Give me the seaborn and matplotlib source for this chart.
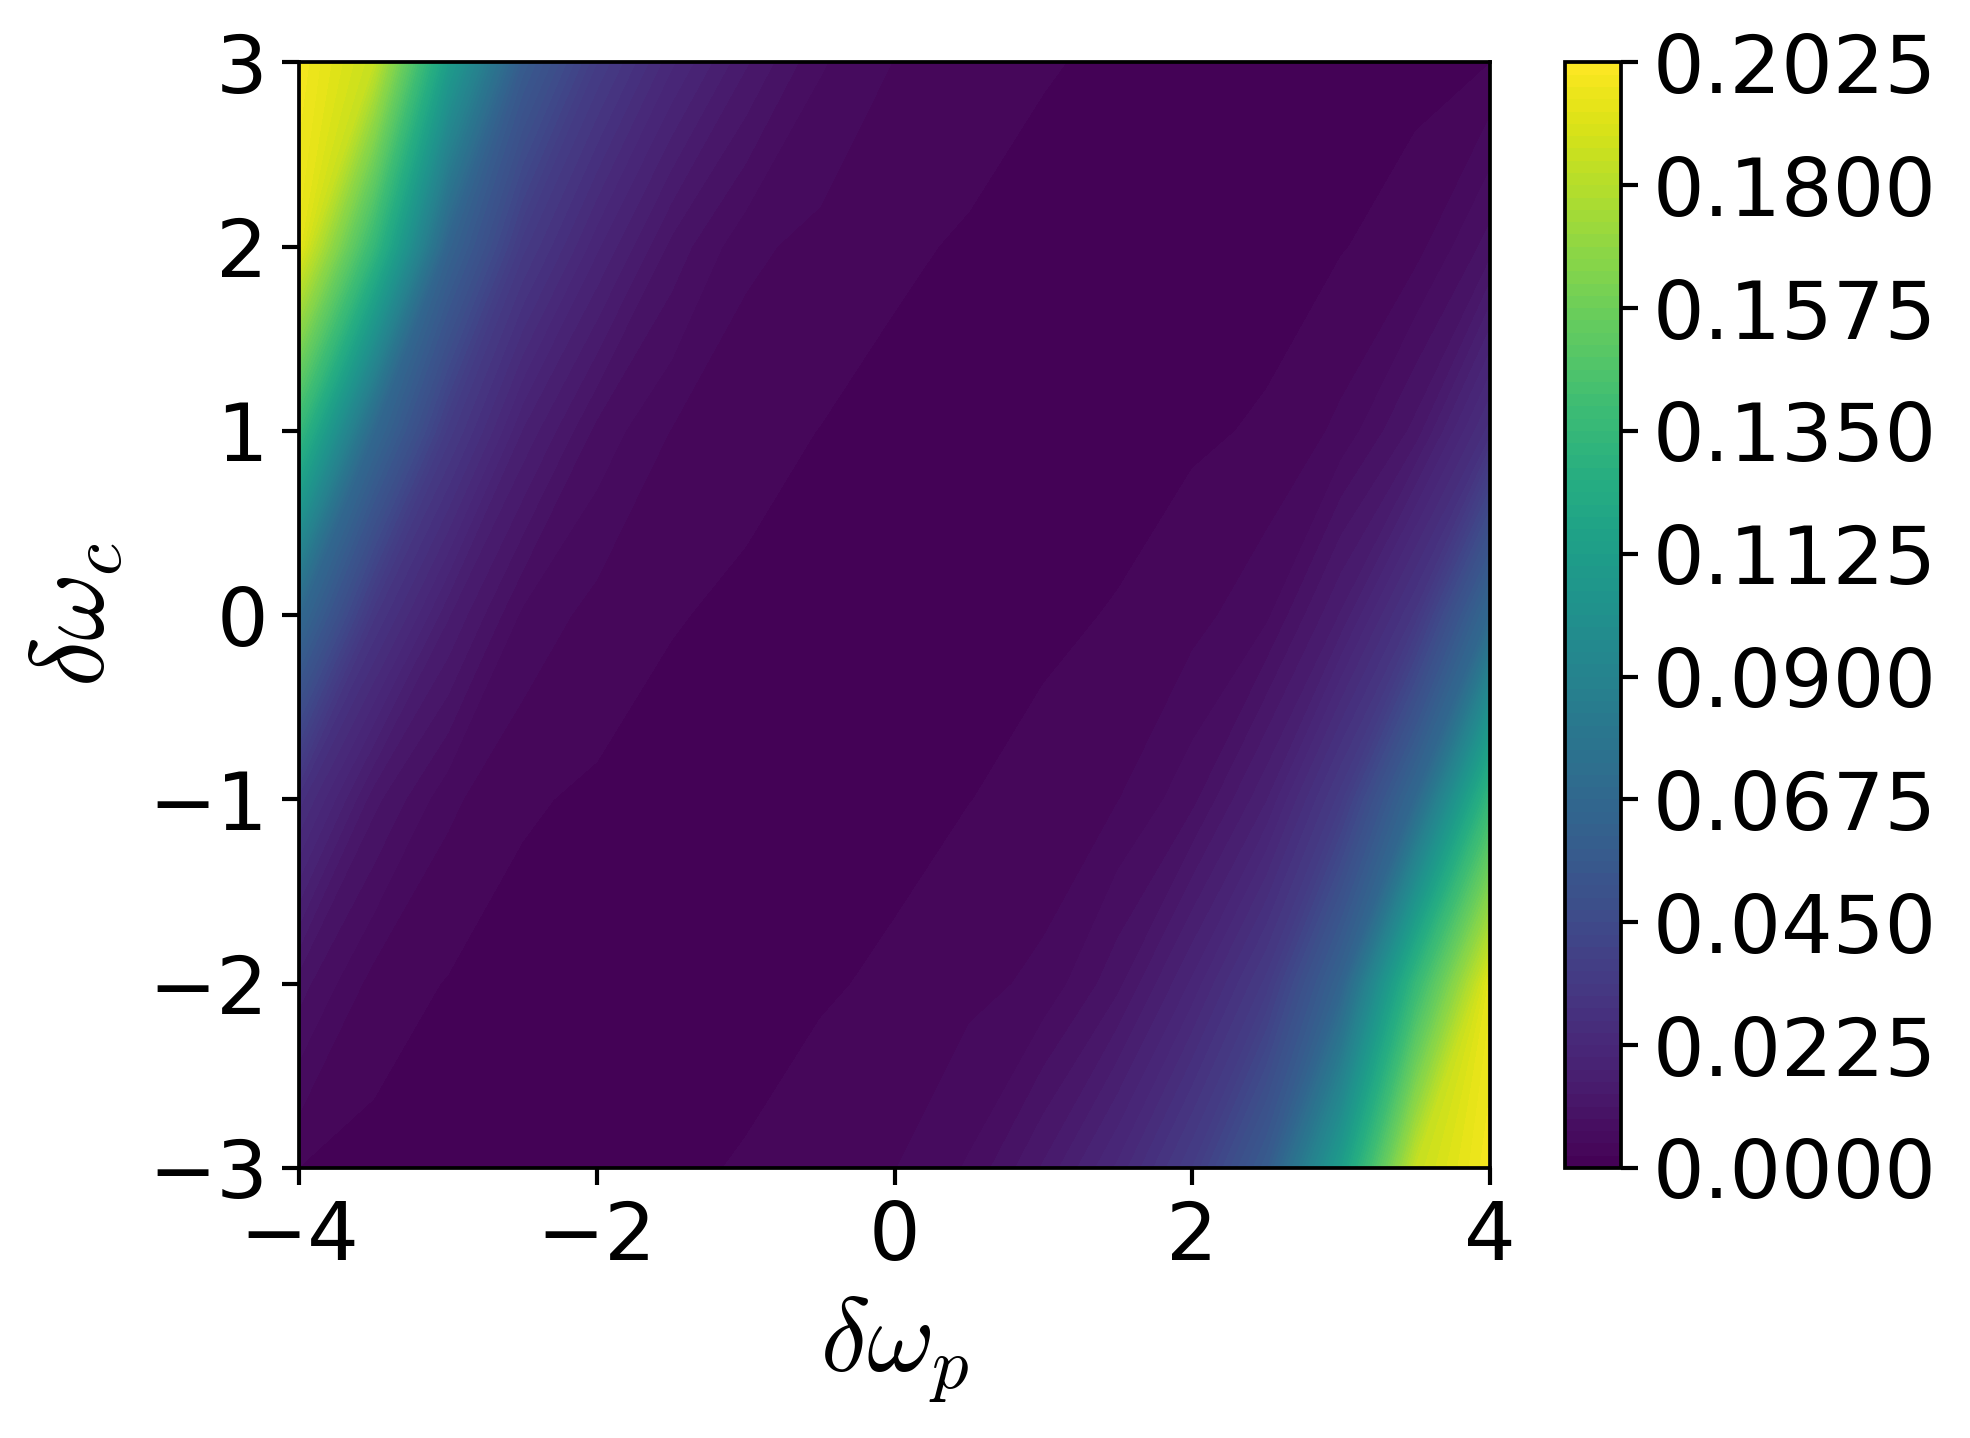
import numpy as np
import seaborn as sns
import matplotlib.pyplot as plt

# ---- data (rows: dw_c from 3 down to -3) ----
dw_p = [-4.0, -3.5, -3.0, -2.5, -2.0, -1.5, -1.0, -0.5, 0.0, 0.5, 1.0, 1.5, 2.0, 2.5, 3.0, 3.5, 4.0]
dw_c = [3, 2, 1, 0, -1, -2, -3]

row_c3 = [0.200, 0.185, 0.112, 0.058, 0.036, 0.023, 0.0138, 0.007, 0.0044, 0.0033, 0.0024, 0.0019, 0.0014, 0.0012, 0.0014, 0.0015, 0.0022]
row_c2 = [0.195, 0.135, 0.064, 0.0346, 0.0207, 0.0105, 0.005, 0.0038, 0.0026, 0.0020, 0.0015, 0.0013, 0.0013, 0.0014, 0.0021, 0.0035, 0.010]
row_c1 = [0.135, 0.068, 0.035, 0.0178, 0.0082, 0.0044, 0.0030, 0.0022, 0.0016, 0.0013, 0.0013, 0.0013, 0.0019, 0.0025, 0.005, 0.012, 0.028]
row_c0 = [0.068, 0.032, 0.016, 0.0062, 0.0036, 0.0024, 0.0018, 0.0014, 0.0014, 0.0014, 0.0018, 0.0024, 0.0036, 0.0062, 0.016, 0.032, 0.068]
row_cm1 = [0.028, 0.012, 0.005, 0.0025, 0.0019, 0.0013, 0.0013, 0.0013, 0.0016, 0.0022, 0.0030, 0.0044, 0.0082, 0.0178, 0.035, 0.068, 0.135]
row_cm2 = [0.010, 0.0035, 0.0021, 0.0014, 0.0013, 0.0013, 0.0015, 0.0020, 0.0026, 0.0038, 0.005, 0.0105, 0.0207, 0.0346, 0.064, 0.135, 0.195]
row_cm3 = [0.0022, 0.0015, 0.0014, 0.0012, 0.0014, 0.0019, 0.0024, 0.0033, 0.0044, 0.007, 0.0138, 0.023, 0.036, 0.058, 0.112, 0.185, 0.200]

levels = np.linspace(0, 0.2025, 91)

Z = np.array([row_c3, row_c2, row_c1, row_c0, row_cm1, row_cm2, row_cm3])

sns.set_style('ticks')
plt.rcParams['mathtext.fontset'] = 'cm'
plt.rcParams['font.family'] = ['DejaVu Sans']
plt.rcParams['text.color'] = 'black'
plt.rcParams['axes.labelcolor'] = 'black'
plt.rcParams['xtick.color'] = 'black'
plt.rcParams['ytick.color'] = 'black'
plt.rcParams['axes.edgecolor'] = 'black'

fig = plt.figure(figsize=(1970 / 300, 1438 / 300), dpi=300)
ax = fig.add_axes([0.1518, 0.1878, 0.6046, 0.7688])
cax = fig.add_axes([0.7944, 0.1878, 0.0284, 0.7688])

cs = ax.contourf(dw_p, dw_c, Z, levels=levels, cmap=sns.color_palette('viridis', as_cmap=True))
cb = fig.colorbar(cs, cax=cax)

ax.set_xlim(-4, 4)
ax.set_ylim(-3, 3)
ax.set_xticks([-4, -2, 0, 2, 4])
ax.set_yticks([-3, -2, -1, 0, 1, 2, 3])
ax.tick_params(labelsize=19.5, length=4, width=1, colors='black')
cax.tick_params(labelsize=19.5, length=4, width=1, colors='black')
for s in ax.spines.values():
    s.set_linewidth(0.9)
cb.outline.set_linewidth(0.9)

ax.set_xlabel(r'$\delta\omega_p$', fontsize=25, labelpad=4)
ax.set_ylabel(r'$\delta\omega_c$', fontsize=25, labelpad=5)

fig.savefig('out.png', dpi=300)
